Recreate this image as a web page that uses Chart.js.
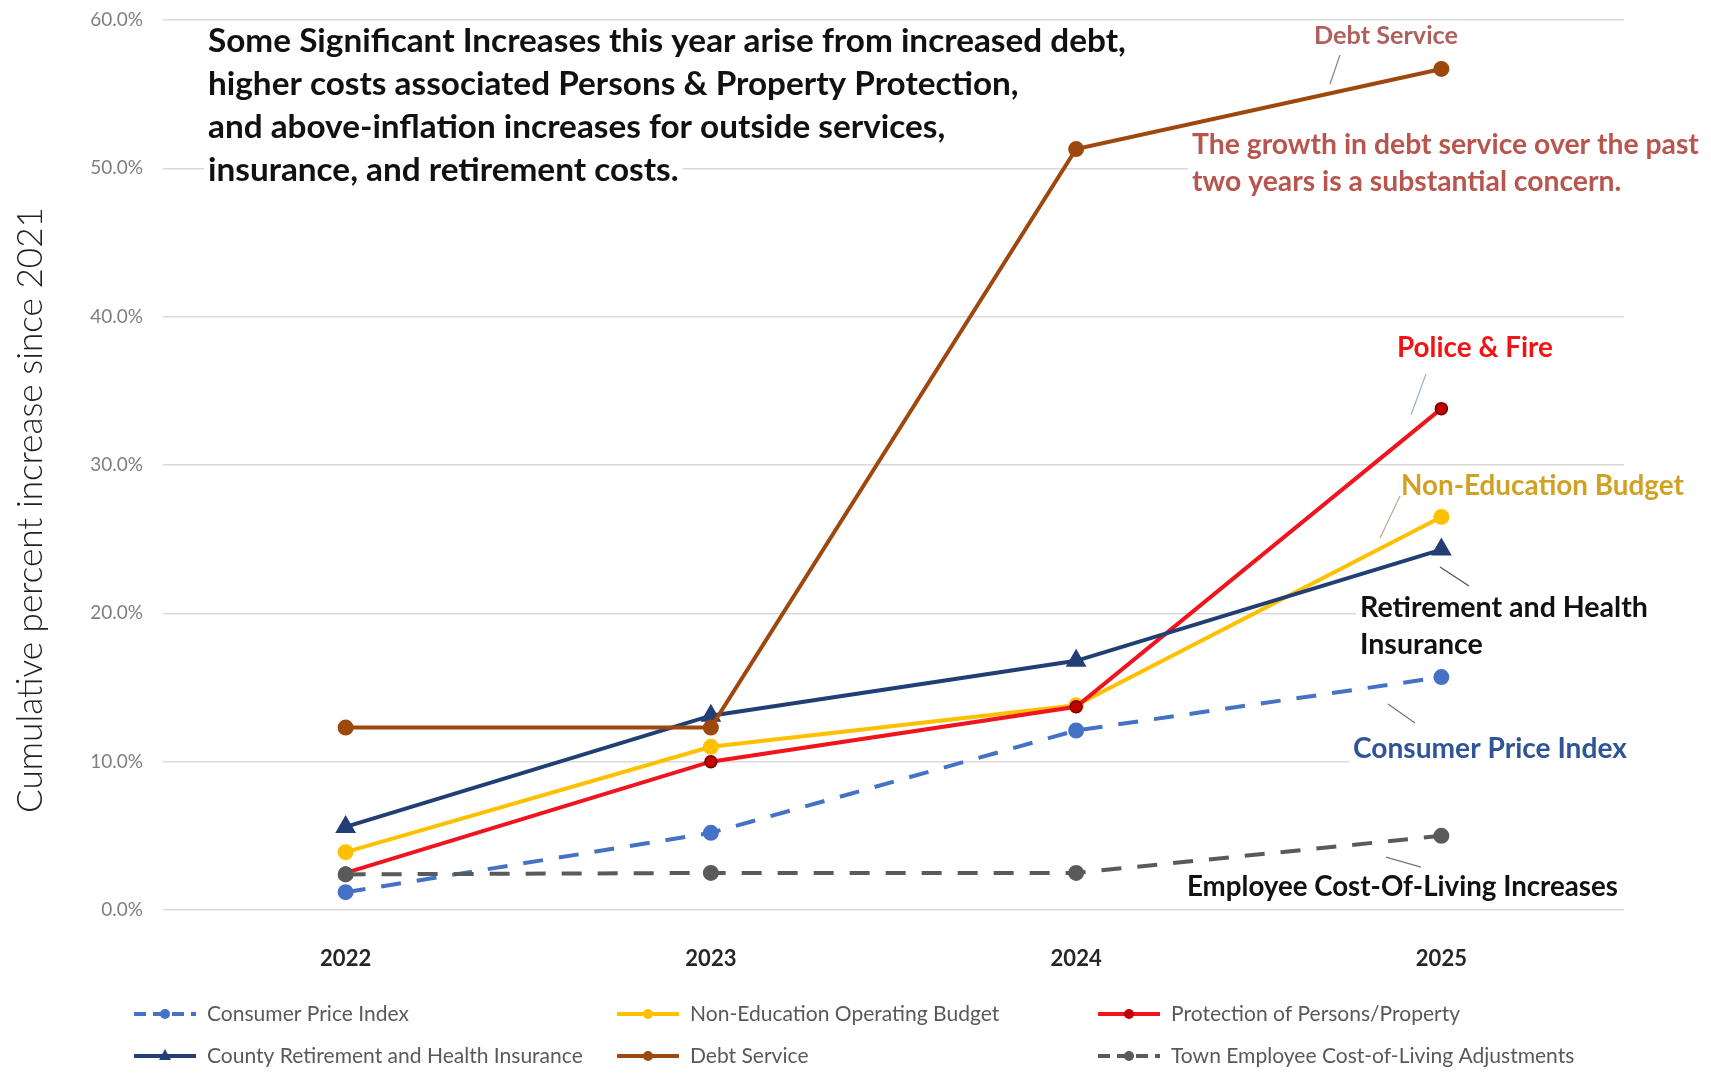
<!DOCTYPE html>
<html><head><meta charset="utf-8">
<script src="https://cdn.jsdelivr.net/npm/chart.js@4.4.0/dist/chart.umd.min.js"></script>
<style>html,body{margin:0;padding:0;background:#fff;overflow:hidden}#wrap{width:1711px;height:1074px;position:relative}</style>
</head><body><div id="wrap"><canvas id="c" width="1711" height="1074"></canvas></div>
<script>
// ---- data ----
const categories = ['2022', '2023', '2024', '2025'];
const consumerPriceIndex = [1.2, 5.2, 12.1, 15.7];
const nonEducationBudget = [3.9, 11.0, 13.8, 26.5];
const protectionPersonsProperty = [2.5, 10.0, 13.7, 33.8];
const countyRetirementHealth = [5.6, 13.1, 16.8, 24.3];
const debtService = [12.3, 12.3, 51.3, 56.7];
const townEmployeeCOLA = [2.4, 2.5, 2.5, 5.0];
const seriesNames = ['Consumer Price Index', 'Non-Education Operating Budget', 'Protection of Persons/Property',
  'County Retirement and Health Insurance', 'Debt Service', 'Town Employee Cost-of-Living Adjustments'];
const yMin = 0, yMax = 60, yStep = 10;
const yTitle = 'Cumulative percent increase since 2021';

const FONT = 'Lato, "Open Sans", sans-serif';
const mctx = document.createElement('canvas').getContext('2d');
function fitSize(text, width, weight) {
  mctx.font = weight + ' 100px ' + FONT;
  return 100 * width / mctx.measureText(text).width;
}

function ds(label, data, color, opts) {
  return Object.assign({
    label, data, borderColor: color, backgroundColor: color,
    pointBackgroundColor: color, pointBorderColor: color,
    borderWidth: 4, pointRadius: 6, pointHoverRadius: 6, tension: 0, fill: false
  }, opts || {});
}
const datasets = [
  ds(seriesNames[0], consumerPriceIndex, '#4472C4', {borderDash: [20, 16], order: 6}),
  ds(seriesNames[1], nonEducationBudget, '#FFC000', {order: 5}),
  ds(seriesNames[2], protectionPersonsProperty, '#F0141E', {pointBackgroundColor: '#C00000', pointBorderColor: '#7A0000', pointBorderWidth: 1.5, order: 4}),
  ds(seriesNames[3], countyRetirementHealth, '#213F74', {pointStyle: 'triangle', pointRadius: 8, order: 3}),
  ds(seriesNames[4], debtService, '#9E480E', {order: 2}),
  ds(seriesNames[5], townEmployeeCOLA, '#5A5A5A', {borderDash: [20, 16], order: 1})
];

// ---- annotations (text boxes) ----
const notes = [
  {lines: ['Some Significant Increases this year arise from increased debt,',
           'higher costs associated Persons & Property Protection,',
           'and above-inflation increases for outside services,',
           'insurance, and retirement costs.'],
   x: 208, ys: [41.5, 84, 127.7, 170.2], w: 918, align: 'left', color: '#111'},
  {lines: ['Debt Service'], x: 1386, ys: [36], w: 144, align: 'center', color: '#B0605B',
   leader: [1340, 55, 1330, 84], leaderColor: '#A47E93'},
  {lines: ['The growth in debt service over the past', 'two years is a substantial concern.'],
   x: 1192, ys: [145, 182], w: 507, align: 'left', color: '#B8554F'},
  {lines: ['Police & Fire'], x: 1475, ys: [348], w: 156, align: 'center', color: '#F01414',
   leader: [1426, 374, 1411, 415], leaderColor: '#9DB7D9'},
  {lines: ['Non-Education Budget'], x: 1401, ys: [486], w: 283, align: 'left', color: '#D0A224',
   leader: [1400, 496, 1380, 538], leaderColor: '#BCAF95'},
  {lines: ['Retirement and Health', 'Insurance'], x: 1360, ys: [608, 645], w: 288, align: 'left', color: '#111',
   leader: [1440, 567, 1469, 586], leaderColor: '#555'},
  {lines: ['Consumer Price Index'], x: 1353, ys: [749], w: 274, align: 'left', color: '#2F5597',
   leader: [1388, 704, 1415, 723], leaderColor: '#777'},
  {lines: ['Employee Cost-Of-Living Increases'], x: 1187, ys: [887], w: 431, align: 'left', color: '#111',
   leader: [1386, 857, 1421, 867], leaderColor: '#777'}
];

const notesPlugin = {
  id: 'notes',
  beforeDatasetsDraw(chart) {
    const ctx = chart.ctx;
    ctx.save();
    notes.forEach(n => {
      const size = fitSize(n.lines[0], n.w, 'bold');
      ctx.font = 'bold ' + size.toFixed(2) + 'px ' + FONT;
      ctx.textBaseline = 'middle';
      ctx.textAlign = n.align;
      n.lines.forEach((t, i) => {
        const tw = ctx.measureText(t).width;
        const left = n.align === 'center' ? n.x - tw / 2 : n.x;
        ctx.fillStyle = '#fff';
        ctx.fillRect(left - 4, n.ys[i] - size * 0.6, tw + 8, size * 1.2);
        ctx.fillStyle = n.color;
        ctx.fillText(t, n.x, n.ys[i]);
      });
      if (n.leader) {
        ctx.strokeStyle = n.leaderColor; ctx.lineWidth = 1.3;
        ctx.beginPath(); ctx.moveTo(n.leader[0], n.leader[1]); ctx.lineTo(n.leader[2], n.leader[3]); ctx.stroke();
      }
    });
    // rotated axis title
    const ts = fitSize(yTitle, 606, '300');
    ctx.translate(31, 510);
    ctx.rotate(-Math.PI / 2);
    ctx.font = '300 ' + ts.toFixed(2) + 'px ' + FONT;
    ctx.fillStyle = '#222';
    ctx.textAlign = 'center'; ctx.textBaseline = 'middle';
    ctx.fillText(yTitle, 0, 0);
    ctx.restore();
  }
};

// ---- custom 3-column legend ----
const legendCols = [134, 617, 1098], legendRows = [1014, 1056];
const legendPlugin = {
  id: 'gridLegend',
  afterDraw(chart) {
    const ctx = chart.ctx;
    ctx.save();
    const size = fitSize(seriesNames[3], 376, 'normal');
    chart.data.datasets.forEach((d, i) => {
      const x = legendCols[i % 3], y = legendRows[Math.floor(i / 3)];
      ctx.strokeStyle = d.borderColor; ctx.lineWidth = 4;
      ctx.setLineDash(d.borderDash ? [12, 7] : []);
      ctx.beginPath(); ctx.moveTo(x, y); ctx.lineTo(x + 62, y); ctx.stroke();
      ctx.setLineDash([]);
      ctx.fillStyle = d.pointBackgroundColor;
      ctx.beginPath();
      if (d.pointStyle === 'triangle') {
        ctx.moveTo(x + 31, y - 7); ctx.lineTo(x + 37, y + 4); ctx.lineTo(x + 25, y + 4); ctx.closePath();
      } else {
        ctx.arc(x + 31, y, 5, 0, Math.PI * 2);
      }
      ctx.fill();
      ctx.font = size.toFixed(2) + 'px ' + FONT;
      ctx.fillStyle = '#595959';
      ctx.textBaseline = 'middle'; ctx.textAlign = 'left';
      ctx.fillText(d.label, x + 73, y);
    });
    ctx.restore();
  }
};

new Chart(document.getElementById('c'), {
  type: 'line',
  data: {labels: categories, datasets},
  options: {
    responsive: false, animation: false, devicePixelRatio: 1,
    layout: {padding: {top: 20, right: 87, left: 0, bottom: 0}},
    plugins: {legend: {display: false}, tooltip: {enabled: false}},
    scales: {
      x: {
        type: 'category', offset: true,
        grid: {display: false, drawTicks: false}, border: {display: false},
        ticks: {font: {family: FONT, size: 22, weight: 'bold'}, color: '#262626', padding: 36},
        afterFit(s) { s.height = 164; }
      },
      y: {
        min: yMin, max: yMax,
        ticks: {stepSize: yStep, callback: v => v.toFixed(1) + '%', font: {family: FONT, size: 19}, color: '#7F7F7F', padding: 20},
        grid: {color: '#D9D9D9', lineWidth: 1.5, drawTicks: false},
        border: {display: false},
        afterFit(s) { s.width = 163; s.paddingTop = 0; s.paddingBottom = 0; }
      }
    }
  },
  plugins: [notesPlugin, legendPlugin]
});
</script></body></html>
